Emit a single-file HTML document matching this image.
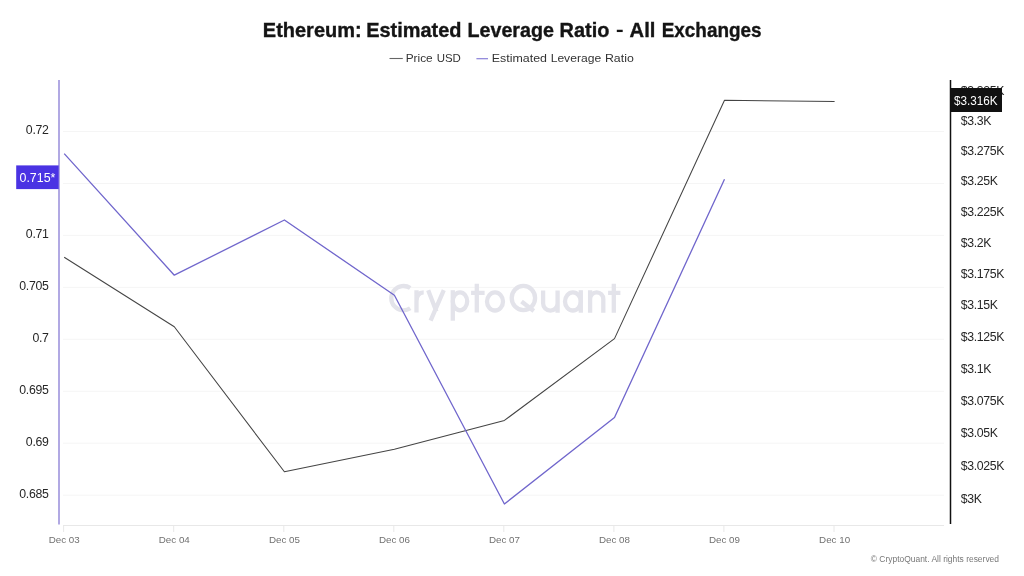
<!DOCTYPE html>
<html><head><meta charset="utf-8">
<style>
html,body{margin:0;padding:0;background:#fff;width:1024px;height:576px;overflow:hidden}
svg{display:block;font-family:"Liberation Sans",sans-serif;will-change:transform}
</style></head><body>
<svg width="1024" height="576" viewBox="0 0 1024 576">
<rect width="1024" height="576" fill="#fff"/>
<g font-size="19.7" font-weight="bold" fill="#141414" stroke="#141414" stroke-width="0.35">
<text x="262.83" y="36.8" textLength="98.82" lengthAdjust="spacingAndGlyphs">Ethereum:</text>
<text x="366.24" y="36.8" textLength="95.18" lengthAdjust="spacingAndGlyphs">Estimated</text>
<text x="467.5" y="36.8" textLength="86.36" lengthAdjust="spacingAndGlyphs">Leverage</text>
<text x="559.54" y="36.8" textLength="49.82" lengthAdjust="spacingAndGlyphs">Ratio</text>
<text x="629.59" y="36.8" textLength="25.77" lengthAdjust="spacingAndGlyphs">All</text>
<text x="661.7" y="36.8" textLength="99.84" lengthAdjust="spacingAndGlyphs">Exchanges</text>
</g>
<rect x="616.8" y="29.75" width="5.9" height="2.3" fill="#141414"/>
<line x1="389.5" y1="58.5" x2="402.8" y2="58.5" stroke="#666" stroke-width="1.1"/>
<g font-size="11.8" fill="#333">
<text x="405.69" y="61.7" textLength="27.04" lengthAdjust="spacingAndGlyphs">Price</text>
<text x="436.63" y="61.7" textLength="24.21" lengthAdjust="spacingAndGlyphs">USD</text>
<text x="491.75" y="61.7" textLength="55.19" lengthAdjust="spacingAndGlyphs">Estimated</text>
<text x="550.67" y="61.7" textLength="50.48" lengthAdjust="spacingAndGlyphs">Leverage</text>
<text x="604.95" y="61.7" textLength="28.81" lengthAdjust="spacingAndGlyphs">Ratio</text>
</g>
<line x1="476.4" y1="58.7" x2="488" y2="58.7" stroke="#8a80d8" stroke-width="1.2"/>
<g stroke="#f5f5f5" stroke-width="1">
<line x1="63" y1="131.50" x2="944" y2="131.50"/>
<line x1="63" y1="183.45" x2="944" y2="183.45"/>
<line x1="63" y1="235.40" x2="944" y2="235.40"/>
<line x1="63" y1="287.35" x2="944" y2="287.35"/>
<line x1="63" y1="339.30" x2="944" y2="339.30"/>
<line x1="63" y1="391.25" x2="944" y2="391.25"/>
<line x1="63" y1="443.20" x2="944" y2="443.20"/>
<line x1="63" y1="495.15" x2="944" y2="495.15"/>
</g>
<line x1="63" y1="525.5" x2="944" y2="525.5" stroke="#e8e8e8" stroke-width="1"/>
<g stroke="#e8e8e8" stroke-width="1">
<line x1="63.6" y1="525" x2="63.6" y2="532"/>
<line x1="173.7" y1="525" x2="173.7" y2="532"/>
<line x1="283.8" y1="525" x2="283.8" y2="532"/>
<line x1="393.8" y1="525" x2="393.8" y2="532"/>
<line x1="503.8" y1="525" x2="503.8" y2="532"/>
<line x1="613.9" y1="525" x2="613.9" y2="532"/>
<line x1="723.9" y1="525" x2="723.9" y2="532"/>
<line x1="834.0" y1="525" x2="834.0" y2="532"/>
</g>
<g font-size="9.8" fill="#707070" text-anchor="middle">
<text x="64.2" y="543.4">Dec 03</text>
<text x="174.3" y="543.4">Dec 04</text>
<text x="284.4" y="543.4">Dec 05</text>
<text x="394.4" y="543.4">Dec 06</text>
<text x="504.4" y="543.4">Dec 07</text>
<text x="614.5" y="543.4">Dec 08</text>
<text x="724.5" y="543.4">Dec 09</text>
<text x="834.6" y="543.4">Dec 10</text>
</g>
<line x1="59" y1="80" x2="59" y2="524.5" stroke="#9e94dc" stroke-width="1.6"/>
<g font-size="12.3" letter-spacing="-0.3" fill="#262626" text-anchor="end">
<text x="48.6" y="134.40">0.72</text>
<text x="48.6" y="238.30">0.71</text>
<text x="48.6" y="290.25">0.705</text>
<text x="48.6" y="342.20">0.7</text>
<text x="48.6" y="394.15">0.695</text>
<text x="48.6" y="446.10">0.69</text>
<text x="48.6" y="498.05">0.685</text>
</g>
<line x1="950.5" y1="80" x2="950.5" y2="524" stroke="#111" stroke-width="1.5"/>
<g font-size="12.3" letter-spacing="-0.35" fill="#262626">
<text x="960.7" y="94.95">$3.325K</text>
<text x="960.7" y="124.87">$3.3K</text>
<text x="960.7" y="155.02">$3.275K</text>
<text x="960.7" y="185.40">$3.25K</text>
<text x="960.7" y="216.02">$3.225K</text>
<text x="960.7" y="246.88">$3.2K</text>
<text x="960.7" y="277.97">$3.175K</text>
<text x="960.7" y="309.31">$3.15K</text>
<text x="960.7" y="340.91">$3.125K</text>
<text x="960.7" y="372.75">$3.1K</text>
<text x="960.7" y="404.86">$3.075K</text>
<text x="960.7" y="437.22">$3.05K</text>
<text x="960.7" y="469.86">$3.025K</text>
<text x="960.7" y="502.76">$3K</text>
</g>
<g fill="none" stroke="#e3e3ea" stroke-width="4.3">
<path d="M410.24 288.08 A12.15 12.15 0 1 0 410.24 308.22"/>
<path d="M416.5 312.6 V290.2 M416.5 301 Q416.8 292.4 423.7 292.4"/>
<path d="M428.2 290.2 L436.4 311.5 M443.8 290.2 L430.6 320.7"/>
<path d="M452.8 290.2 V320.7"/><ellipse cx="460" cy="301.35" rx="7.2" ry="8.95"/>
<path d="M476.8 283.8 V312.6 M471.1 292.8 H484.6"/>
<ellipse cx="495" cy="301.45" rx="8.0" ry="9.05"/>
<ellipse cx="523.4" cy="298" rx="11.7" ry="12.1"/><path d="M521.5 301.5 L533.8 311"/>
<path d="M543.1 290.4 V303.35 A7.25 7.25 0 0 0 557.6 303.35 M557.6 290.4 V312.8"/>
<ellipse cx="572.9" cy="301.45" rx="7.9" ry="9.05"/><path d="M580.8 290.2 V312.7"/>
<path d="M590.1 312.7 V290.2 M590.1 299 A6.6 6.6 0 0 1 603.3 299 V312.7"/>
<path d="M613.8 283.8 V312.7 M608.1 292.8 H620.4"/>
</g>
<polyline fill="none" stroke="#444" stroke-width="1.05" stroke-linejoin="round" points="64.2,257.3 174.3,326.8 284.4,471.8 394.4,449.3 504.4,420.4 614.5,338.6 724.5,100.3 834.6,101.5"/>
<polyline fill="none" stroke="#7066cc" stroke-width="1.3" stroke-linejoin="round" points="64.2,153.6 174.3,275.2 284.4,220.0 394.4,295.2 504.4,504.0 614.5,417.6 724.5,179.2"/>
<rect x="16.2" y="165.4" width="42.5" height="23.7" fill="#4a33e3"/>
<text x="19.52" y="182.1" font-size="13" fill="#fff" textLength="35.91" lengthAdjust="spacingAndGlyphs">0.715*</text>
<rect x="950.5" y="88" width="51.5" height="24" fill="#111"/>
<text x="953.96" y="104.6" font-size="12.3" fill="#fff" textLength="43.64" lengthAdjust="spacingAndGlyphs">$3.316K</text>
<text x="870.75" y="561.8" font-size="8.5" fill="#777" textLength="128.24" lengthAdjust="spacingAndGlyphs">© CryptoQuant. All rights reserved</text>
</svg>
</body></html>
